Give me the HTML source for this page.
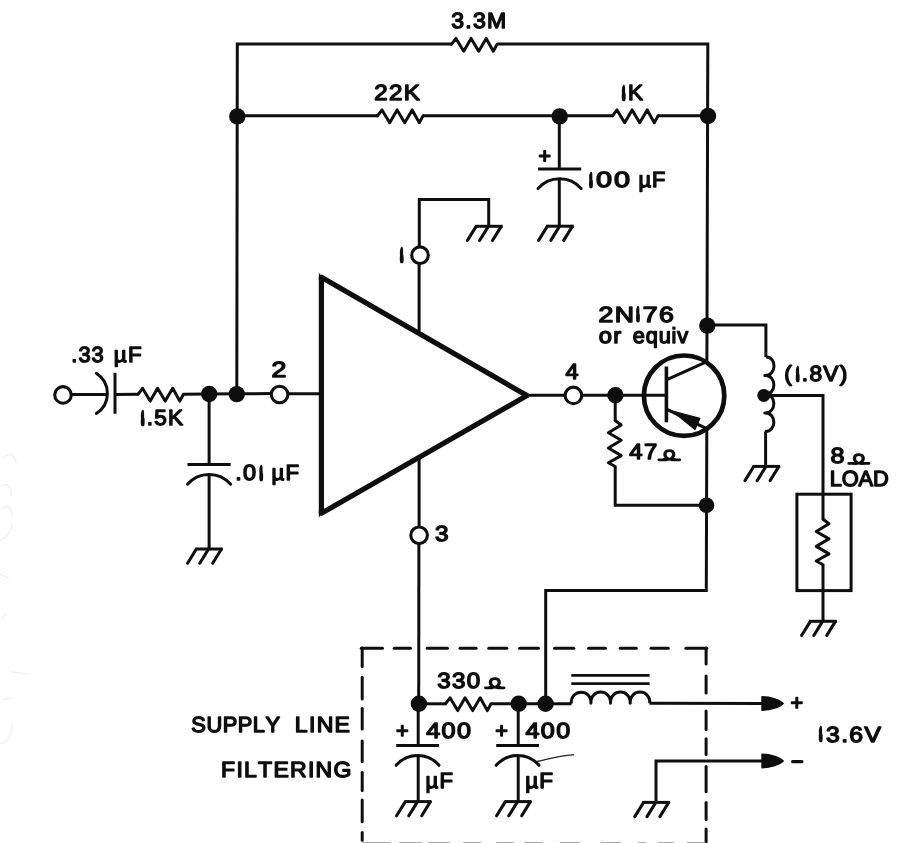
<!DOCTYPE html>
<html lang="en"><head><meta charset="utf-8"><title>Amplifier schematic</title>
<style>
html,body{margin:0;padding:0;background:#ffffff;}
body{width:901px;height:843px;overflow:hidden;}
svg{display:block}
svg text{font-kerning:none;text-rendering:geometricPrecision;font-family:"Liberation Sans",sans-serif;fill:#0e0e0e;stroke:#0e0e0e;stroke-linejoin:round;}
</style></head><body>
<svg width="901" height="843" viewBox="0 0 901 843">
<rect width="901" height="843" fill="#ffffff"/>
<g fill="none" stroke="#f0f0f0" stroke-width="1.5" stroke-linecap="round" stroke-dasharray="2 1.5"><path d="M3,458 C9,452 15,455 16,463"/><path d="M2,486 C8,482 12,488 11,496"/><path d="M2,508 C7,504 13,508 12,516"/><path d="M0,540 C6,538 11,532 12,524"/><path d="M0,574 L8,578"/><path d="M2,618 L6,614"/><path d="M12,672 L30,674"/><path d="M2,700 L12,698"/><path d="M0,744 C8,742 13,735 12,724"/></g>
<g>
<path d="M236.8,393.8 L237.3,44.1 L451.5,44.1" fill="none" stroke="#0e0e0e" stroke-width="3.0" stroke-linejoin="miter" stroke-linecap="butt" />
<path d="M451.5,44.4 L456.0,38.4 L463.7,51.2 L471.1,38.4 L478.7,51.2 L486.2,38.4 L493.3,51.2 L497.0,44.4" fill="none" stroke="#0e0e0e" stroke-width="3.0" stroke-linejoin="round" stroke-linecap="round"/>
<path d="M497.0,44.1 L707.8,44.1 L706.9,362.5" fill="none" stroke="#0e0e0e" stroke-width="3.0" stroke-linejoin="miter" stroke-linecap="butt" />
<path d="M237.2,115.8 L377.5,115.8" fill="none" stroke="#0e0e0e" stroke-width="3.0" stroke-linejoin="miter" stroke-linecap="butt" />
<path d="M377.5,115.9 L382.0,109.9 L389.7,122.7 L397.1,109.9 L404.7,122.7 L412.2,109.9 L419.3,122.7 L423.0,115.9" fill="none" stroke="#0e0e0e" stroke-width="3.0" stroke-linejoin="round" stroke-linecap="round"/>
<path d="M423.0,115.8 L612.5,115.8" fill="none" stroke="#0e0e0e" stroke-width="3.0" stroke-linejoin="miter" stroke-linecap="butt" />
<path d="M612.5,115.9 L617.0,109.9 L624.7,122.7 L632.1,109.9 L639.7,122.7 L647.2,109.9 L654.3,122.7 L658.0,115.9" fill="none" stroke="#0e0e0e" stroke-width="3.0" stroke-linejoin="round" stroke-linecap="round"/>
<path d="M658.0,115.8 L707.6,115.8" fill="none" stroke="#0e0e0e" stroke-width="3.0" stroke-linejoin="miter" stroke-linecap="butt" />
<circle cx="237.3" cy="116.4" r="8.2" fill="#0e0e0e"/>
<circle cx="559.7" cy="116.4" r="8.2" fill="#0e0e0e"/>
<circle cx="708.0" cy="116.0" r="8.2" fill="#0e0e0e"/>
<path d="M559.3,115.8 L559.3,169.0" fill="none" stroke="#0e0e0e" stroke-width="3.0" stroke-linejoin="miter" stroke-linecap="butt" />
<path d="M538.0,169.0 L581.2,169.0" fill="none" stroke="#0e0e0e" stroke-width="3.0" stroke-linejoin="miter" stroke-linecap="butt" />
<path d="M538.0,188.6 A28.7,28.7 0 0 1 581.2,188.6" fill="none" stroke="#0e0e0e" stroke-width="3.0" stroke-linecap="round"/>
<path d="M559.3,178.8 L559.3,226.2" fill="none" stroke="#0e0e0e" stroke-width="3.0" stroke-linejoin="miter" stroke-linecap="butt" />
<path d="M546.2,226.2 L573.8,226.2" fill="none" stroke="#0e0e0e" stroke-width="3.0" stroke-linejoin="miter" stroke-linecap="butt" />
<path d="M547.2,226.5 L538.6,240.4" stroke="#0e0e0e" stroke-width="3.1" stroke-linecap="round" fill="none"/>
<path d="M559.4,226.5 L550.8,240.4" stroke="#0e0e0e" stroke-width="3.1" stroke-linecap="round" fill="none"/>
<path d="M572.3,226.5 L563.7,240.4" stroke="#0e0e0e" stroke-width="3.1" stroke-linecap="round" fill="none"/>
<circle cx="420.0" cy="255.2" r="8.3" fill="none" stroke="#0e0e0e" stroke-width="3.1"/>
<path d="M419.3,247.2 L419.3,199.4 L488.7,199.4 L488.7,226.3" fill="none" stroke="#0e0e0e" stroke-width="3.0" stroke-linejoin="miter" stroke-linecap="butt" />
<path d="M475.0,226.3 L502.6,226.3" fill="none" stroke="#0e0e0e" stroke-width="3.0" stroke-linejoin="miter" stroke-linecap="butt" />
<path d="M476.0,226.6 L467.4,240.5" stroke="#0e0e0e" stroke-width="3.1" stroke-linecap="round" fill="none"/>
<path d="M488.2,226.6 L479.6,240.5" stroke="#0e0e0e" stroke-width="3.1" stroke-linecap="round" fill="none"/>
<path d="M501.1,226.6 L492.5,240.5" stroke="#0e0e0e" stroke-width="3.1" stroke-linecap="round" fill="none"/>
<path d="M419.1,263.2 L419.1,331.0" fill="none" stroke="#0e0e0e" stroke-width="3.0" stroke-linejoin="miter" stroke-linecap="butt" />
<circle cx="63.0" cy="394.9" r="8.3" fill="none" stroke="#0e0e0e" stroke-width="3.1"/>
<path d="M71.3,394.6 L107.0,394.4" fill="none" stroke="#0e0e0e" stroke-width="3.0" stroke-linejoin="miter" stroke-linecap="butt" />
<path d="M96.3,373.3 A23.8,23.8 0 0 1 96.3,413.5" fill="none" stroke="#0e0e0e" stroke-width="3.0" stroke-linecap="round"/>
<path d="M115.0,372.8 L115.0,413.8" fill="none" stroke="#0e0e0e" stroke-width="3.0" stroke-linejoin="miter" stroke-linecap="butt" />
<path d="M115.0,394.4 L138.0,394.3" fill="none" stroke="#0e0e0e" stroke-width="3.0" stroke-linejoin="miter" stroke-linecap="butt" />
<path d="M138.0,394.3 L142.5,388.3 L150.2,401.1 L157.6,388.3 L165.2,401.1 L172.7,388.3 L179.8,401.1 L183.5,394.3" fill="none" stroke="#0e0e0e" stroke-width="3.0" stroke-linejoin="round" stroke-linecap="round"/>
<path d="M183.5,394.2 L209.0,393.9 L237.0,393.7 L271.5,393.6" fill="none" stroke="#0e0e0e" stroke-width="3.0" stroke-linejoin="miter" stroke-linecap="butt" />
<circle cx="209.2" cy="394.0" r="8.2" fill="#0e0e0e"/>
<circle cx="236.8" cy="394.1" r="8.2" fill="#0e0e0e"/>
<circle cx="279.6" cy="394.5" r="8.3" fill="none" stroke="#0e0e0e" stroke-width="3.1"/>
<path d="M287.7,393.7 L321.0,393.7" fill="none" stroke="#0e0e0e" stroke-width="3.0" stroke-linejoin="miter" stroke-linecap="butt" />
<path d="M209.1,394.0 L209.1,464.6" fill="none" stroke="#0e0e0e" stroke-width="3.0" stroke-linejoin="miter" stroke-linecap="butt" />
<path d="M187.5,464.6 L230.7,464.6" fill="none" stroke="#0e0e0e" stroke-width="3.0" stroke-linejoin="miter" stroke-linecap="butt" />
<path d="M187.5,484.2 A28.7,28.7 0 0 1 230.7,484.2" fill="none" stroke="#0e0e0e" stroke-width="3.0" stroke-linecap="round"/>
<path d="M209.1,474.4 L209.1,549.0" fill="none" stroke="#0e0e0e" stroke-width="3.0" stroke-linejoin="miter" stroke-linecap="butt" />
<path d="M195.2,549.0 L222.8,549.0" fill="none" stroke="#0e0e0e" stroke-width="3.0" stroke-linejoin="miter" stroke-linecap="butt" />
<path d="M196.2,549.3 L187.6,563.2" stroke="#0e0e0e" stroke-width="3.1" stroke-linecap="round" fill="none"/>
<path d="M208.4,549.3 L199.8,563.2" stroke="#0e0e0e" stroke-width="3.1" stroke-linecap="round" fill="none"/>
<path d="M221.3,549.3 L212.7,563.2" stroke="#0e0e0e" stroke-width="3.1" stroke-linecap="round" fill="none"/>
<path d="M321.4,277.2 L527.0,395.6 L321.4,513.3 Z" fill="none" stroke="#0e0e0e" stroke-width="5.2" stroke-linejoin="round"/>
<path d="M321.5,277.2 L318.85,272.6 L318.85,280 Z M321.5,513.3 L318.85,517.7 L318.85,510 Z" fill="#0e0e0e"/>
<path d="M529.0,395.3 L565.0,395.3" fill="none" stroke="#0e0e0e" stroke-width="3.0" stroke-linejoin="miter" stroke-linecap="butt" />
<circle cx="573.4" cy="395.4" r="8.3" fill="none" stroke="#0e0e0e" stroke-width="3.1"/>
<path d="M581.5,395.3 L666.0,395.3" fill="none" stroke="#0e0e0e" stroke-width="3.0" stroke-linejoin="miter" stroke-linecap="butt" />
<circle cx="615.4" cy="395.3" r="8.2" fill="#0e0e0e"/>
<path d="M419.1,459.0 L419.1,527.2" fill="none" stroke="#0e0e0e" stroke-width="3.0" stroke-linejoin="miter" stroke-linecap="butt" />
<circle cx="419.1" cy="535.3" r="8.3" fill="none" stroke="#0e0e0e" stroke-width="3.1"/>
<path d="M418.9,543.3 L418.7,704.0" fill="none" stroke="#0e0e0e" stroke-width="3.0" stroke-linejoin="miter" stroke-linecap="butt" />
<circle cx="684.1" cy="395.7" r="40.2" fill="none" stroke="#0e0e0e" stroke-width="4.7"/>
<path d="M666.4,366.5 L666.4,422.3" fill="none" stroke="#0e0e0e" stroke-width="3.6" stroke-linejoin="miter" stroke-linecap="butt" />
<path d="M667.5,379.3 L706.9,361.6" fill="none" stroke="#0e0e0e" stroke-width="3.1" stroke-linejoin="miter" stroke-linecap="butt" />
<path d="M667.5,409.6 L706.7,428.6" fill="none" stroke="#0e0e0e" stroke-width="3.1" stroke-linejoin="miter" stroke-linecap="butt" />
<path d="M672.5,411.2 L699.9,418.4 L695.0,429.6 Z" fill="#0e0e0e" stroke="#0e0e0e" stroke-width="1.2" stroke-linejoin="round"/>
<circle cx="707.3" cy="325.6" r="8.2" fill="#0e0e0e"/>
<path d="M707.0,325.0 L765.9,325.0 L765.9,357.0" fill="none" stroke="#0e0e0e" stroke-width="3.0" stroke-linejoin="miter" stroke-linecap="butt" />
<path d="M765.9,357 C776.9,356.5 776.9,376.1 764.8,375.6 C776.9,375.1 776.9,394.8 764.8,394.3 C776.9,393.8 776.9,413.4 764.8,412.9 C776.9,412.4 776.9,432.1 764.8,431.6 " fill="none" stroke="#0e0e0e" stroke-width="3.0" stroke-linejoin="round"/>
<path d="M765.6,431.6 L765.6,466.4" fill="none" stroke="#0e0e0e" stroke-width="3.0" stroke-linejoin="miter" stroke-linecap="butt" />
<path d="M752.6,466.4 L780.2,466.4" fill="none" stroke="#0e0e0e" stroke-width="3.0" stroke-linejoin="miter" stroke-linecap="butt" />
<path d="M753.6,466.7 L745.0,480.6" stroke="#0e0e0e" stroke-width="3.1" stroke-linecap="round" fill="none"/>
<path d="M765.8,466.7 L757.2,480.6" stroke="#0e0e0e" stroke-width="3.1" stroke-linecap="round" fill="none"/>
<path d="M778.7,466.7 L770.1,480.6" stroke="#0e0e0e" stroke-width="3.1" stroke-linecap="round" fill="none"/>
<circle cx="763.8" cy="395.4" r="6.5" fill="#0e0e0e"/>
<path d="M764.0,395.4 L823.0,395.4 L823.0,519.3" fill="none" stroke="#0e0e0e" stroke-width="3.0" stroke-linejoin="miter" stroke-linecap="butt" />
<rect x="796.9" y="494.2" width="54.2" height="96.4" fill="none" stroke="#0e0e0e" stroke-width="3.0"/>
<path d="M823.0,519.3 L829.0,523.8 L816.2,531.5 L829.0,538.9 L816.2,546.4 L829.0,553.9 L816.2,561.0 L823.0,564.7" fill="none" stroke="#0e0e0e" stroke-width="3.0" stroke-linejoin="round" stroke-linecap="round"/>
<path d="M823.0,564.7 L823.0,621.3" fill="none" stroke="#0e0e0e" stroke-width="3.0" stroke-linejoin="miter" stroke-linecap="butt" />
<path d="M809.2,621.3 L836.8,621.3" fill="none" stroke="#0e0e0e" stroke-width="3.0" stroke-linejoin="miter" stroke-linecap="butt" />
<path d="M810.2,621.6 L801.6,635.5" stroke="#0e0e0e" stroke-width="3.1" stroke-linecap="round" fill="none"/>
<path d="M822.4,621.6 L813.8,635.5" stroke="#0e0e0e" stroke-width="3.1" stroke-linecap="round" fill="none"/>
<path d="M835.3,621.6 L826.7,635.5" stroke="#0e0e0e" stroke-width="3.1" stroke-linecap="round" fill="none"/>
<path d="M615.2,395.3 L615.2,420.5" fill="none" stroke="#0e0e0e" stroke-width="3.0" stroke-linejoin="miter" stroke-linecap="butt" />
<path d="M615.2,420.5 L621.2,425.0 L608.4,432.8 L621.2,440.3 L608.4,448.0 L621.2,455.6 L608.4,462.8 L615.2,466.5" fill="none" stroke="#0e0e0e" stroke-width="3.0" stroke-linejoin="round" stroke-linecap="round"/>
<path d="M615.2,466.5 L615.2,505.2 L706.6,505.2" fill="none" stroke="#0e0e0e" stroke-width="3.0" stroke-linejoin="miter" stroke-linecap="butt" />
<circle cx="706.5" cy="505.2" r="7.8" fill="#0e0e0e"/>
<path d="M706.8,428.0 L706.3,590.4 L545.7,590.4 L545.7,704.0" fill="none" stroke="#0e0e0e" stroke-width="3.0" stroke-linejoin="miter" stroke-linecap="butt" />
<circle cx="418.9" cy="703.8" r="8.2" fill="#0e0e0e"/>
<circle cx="518.7" cy="703.8" r="8.2" fill="#0e0e0e"/>
<circle cx="545.6" cy="703.8" r="8.2" fill="#0e0e0e"/>
<path d="M418.9,703.8 L445.5,703.8" fill="none" stroke="#0e0e0e" stroke-width="3.0" stroke-linejoin="miter" stroke-linecap="butt" />
<path d="M445.5,703.8 L450.0,697.8 L457.7,710.6 L465.1,697.8 L472.7,710.6 L480.2,697.8 L487.3,710.6 L491.0,703.8" fill="none" stroke="#0e0e0e" stroke-width="3.0" stroke-linejoin="round" stroke-linecap="round"/>
<path d="M491.0,703.8 L571.5,703.8" fill="none" stroke="#0e0e0e" stroke-width="3.0" stroke-linejoin="miter" stroke-linecap="butt" />
<path d="M418.2,703.8 L418.2,745.5" fill="none" stroke="#0e0e0e" stroke-width="3.0" stroke-linejoin="miter" stroke-linecap="butt" />
<path d="M396.2,745.5 L439.0,745.5" fill="none" stroke="#0e0e0e" stroke-width="3.0" stroke-linejoin="miter" stroke-linecap="butt" />
<path d="M396.2,765.3 A28.3,28.3 0 0 1 439.0,765.3" fill="none" stroke="#0e0e0e" stroke-width="3.0" stroke-linecap="round"/>
<path d="M418.2,755.5 L418.2,801.6" fill="none" stroke="#0e0e0e" stroke-width="3.0" stroke-linejoin="miter" stroke-linecap="butt" />
<path d="M404.6,801.6 L431.4,801.6" fill="none" stroke="#0e0e0e" stroke-width="3.0" stroke-linejoin="miter" stroke-linecap="butt" />
<path d="M405.2,801.9 L396.6,815.8" stroke="#0e0e0e" stroke-width="3.1" stroke-linecap="round" fill="none"/>
<path d="M417.4,801.9 L408.8,815.8" stroke="#0e0e0e" stroke-width="3.1" stroke-linecap="round" fill="none"/>
<path d="M430.3,801.9 L421.7,815.8" stroke="#0e0e0e" stroke-width="3.1" stroke-linecap="round" fill="none"/>
<path d="M518.2,703.8 L518.2,745.5" fill="none" stroke="#0e0e0e" stroke-width="3.0" stroke-linejoin="miter" stroke-linecap="butt" />
<path d="M496.2,745.5 L539.0,745.5" fill="none" stroke="#0e0e0e" stroke-width="3.0" stroke-linejoin="miter" stroke-linecap="butt" />
<path d="M496.2,765.3 A28.3,28.3 0 0 1 539.0,765.3" fill="none" stroke="#0e0e0e" stroke-width="3.0" stroke-linecap="round"/>
<path d="M518.2,755.5 L518.2,801.6" fill="none" stroke="#0e0e0e" stroke-width="3.0" stroke-linejoin="miter" stroke-linecap="butt" />
<path d="M504.6,801.6 L531.4,801.6" fill="none" stroke="#0e0e0e" stroke-width="3.0" stroke-linejoin="miter" stroke-linecap="butt" />
<path d="M505.2,801.9 L496.6,815.8" stroke="#0e0e0e" stroke-width="3.1" stroke-linecap="round" fill="none"/>
<path d="M517.4,801.9 L508.8,815.8" stroke="#0e0e0e" stroke-width="3.1" stroke-linecap="round" fill="none"/>
<path d="M530.3,801.9 L521.7,815.8" stroke="#0e0e0e" stroke-width="3.1" stroke-linecap="round" fill="none"/>
<path d="M536.5,761.5 C545,760 556,756 574,754.6" fill="none" stroke="#222" stroke-width="1.2"/>
<path d="M571.2,703.6 C570.7,688.4 591.4,688.4 590.9,703.2 C590.4,688.4 611.0,688.4 610.5,703.2 C610.0,688.4 630.7,688.4 630.2,703.2 C629.7,688.4 650.3,688.4 649.8,703.2 " fill="none" stroke="#0e0e0e" stroke-width="3.0" stroke-linejoin="round"/>
<path d="M571.3,675.3 L649.6,675.3" fill="none" stroke="#0e0e0e" stroke-width="2.7" stroke-linejoin="miter" stroke-linecap="butt" />
<path d="M571.3,683.6 L649.6,683.6" fill="none" stroke="#0e0e0e" stroke-width="2.7" stroke-linejoin="miter" stroke-linecap="butt" />
<path d="M649.5,703.3 L764.0,703.5" fill="none" stroke="#0e0e0e" stroke-width="3.0" stroke-linejoin="miter" stroke-linecap="butt" />
<path d="M762.0,696.8 C771,696.9 780.2,700.1 783.2,703.5 C780.2,706.9 771,710.1 762.0,710.2 Z" fill="#0e0e0e" stroke="#0e0e0e" stroke-width="1.4" stroke-linejoin="round"/>
<path d="M656.0,802.4 L656.0,761.0 L764.0,761.0" fill="none" stroke="#0e0e0e" stroke-width="3.0" stroke-linejoin="miter" stroke-linecap="butt" />
<path d="M762.0,754.3 C771,754.4 780.2,757.6 783.2,761.0 C780.2,764.4 771,767.6 762.0,767.7 Z" fill="#0e0e0e" stroke="#0e0e0e" stroke-width="1.4" stroke-linejoin="round"/>
<path d="M642.4,802.4 L670.0,802.4" fill="none" stroke="#0e0e0e" stroke-width="3.0" stroke-linejoin="miter" stroke-linecap="butt" />
<path d="M643.4,802.7 L634.8,816.6" stroke="#0e0e0e" stroke-width="3.1" stroke-linecap="round" fill="none"/>
<path d="M655.6,802.7 L647.0,816.6" stroke="#0e0e0e" stroke-width="3.1" stroke-linecap="round" fill="none"/>
<path d="M668.5,802.7 L659.9,816.6" stroke="#0e0e0e" stroke-width="3.1" stroke-linecap="round" fill="none"/>
<path d="M361.3,648.2 H382.5" stroke="#0e0e0e" stroke-width="3.0" stroke-linecap="round"/>
<path d="M394.3,648.2 H410.5" stroke="#0e0e0e" stroke-width="3.0" stroke-linecap="round"/>
<path d="M427.2,648.2 H447.5" stroke="#0e0e0e" stroke-width="3.0" stroke-linecap="round"/>
<path d="M460.0,648.2 H476.1" stroke="#0e0e0e" stroke-width="3.0" stroke-linecap="round"/>
<path d="M488.8,648.2 H506.8" stroke="#0e0e0e" stroke-width="3.0" stroke-linecap="round"/>
<path d="M519.6,648.2 H538.5" stroke="#0e0e0e" stroke-width="3.0" stroke-linecap="round"/>
<path d="M554.5,648.2 H573.8" stroke="#0e0e0e" stroke-width="3.0" stroke-linecap="round"/>
<path d="M588.6,648.2 H605.5" stroke="#0e0e0e" stroke-width="3.0" stroke-linecap="round"/>
<path d="M620.2,648.2 H636.3" stroke="#0e0e0e" stroke-width="3.0" stroke-linecap="round"/>
<path d="M651.0,648.2 H668.3" stroke="#0e0e0e" stroke-width="3.0" stroke-linecap="round"/>
<path d="M685.9,648.2 H706.8" stroke="#0e0e0e" stroke-width="3.0" stroke-linecap="round"/>
<path d="M362.2,648.1 V666.5" stroke="#0e0e0e" stroke-width="3.0" stroke-linecap="round"/>
<path d="M362.2,677.3 V699.0" stroke="#0e0e0e" stroke-width="3.0" stroke-linecap="round"/>
<path d="M362.2,708.6 V729.1" stroke="#0e0e0e" stroke-width="3.0" stroke-linecap="round"/>
<path d="M362.2,741.1 V761.6" stroke="#0e0e0e" stroke-width="3.0" stroke-linecap="round"/>
<path d="M362.2,772.4 V790.5" stroke="#0e0e0e" stroke-width="3.0" stroke-linecap="round"/>
<path d="M362.2,800.1 V821.8" stroke="#0e0e0e" stroke-width="3.0" stroke-linecap="round"/>
<path d="M362.2,832.6 V840.3" stroke="#0e0e0e" stroke-width="3.0" stroke-linecap="round"/>
<path d="M706.1,648.1 V664.1" stroke="#0e0e0e" stroke-width="3.0" stroke-linecap="round"/>
<path d="M706.1,676.1 V693.0" stroke="#0e0e0e" stroke-width="3.0" stroke-linecap="round"/>
<path d="M706.1,711.0 V729.8" stroke="#0e0e0e" stroke-width="3.0" stroke-linecap="round"/>
<path d="M706.1,738.7 V754.4" stroke="#0e0e0e" stroke-width="3.0" stroke-linecap="round"/>
<path d="M706.1,766.4 V791.7" stroke="#0e0e0e" stroke-width="3.0" stroke-linecap="round"/>
<path d="M706.1,802.5 V819.4" stroke="#0e0e0e" stroke-width="3.0" stroke-linecap="round"/>
<path d="M706.1,829.0 V842.3" stroke="#0e0e0e" stroke-width="3.0" stroke-linecap="round"/>
<path d="M362.9,842.9 H390.3" stroke="#8a8a8a" stroke-width="1.4" stroke-linecap="round"/>
<path d="M399.7,842.9 H421.3" stroke="#8a8a8a" stroke-width="1.4" stroke-linecap="round"/>
<path d="M428.7,842.9 H449.8" stroke="#8a8a8a" stroke-width="1.4" stroke-linecap="round"/>
<path d="M463.7,842.9 H480.8" stroke="#8a8a8a" stroke-width="1.4" stroke-linecap="round"/>
<path d="M496.5,842.9 H513.6" stroke="#8a8a8a" stroke-width="1.4" stroke-linecap="round"/>
<path d="M525.2,842.9 H542.3" stroke="#8a8a8a" stroke-width="1.4" stroke-linecap="round"/>
<path d="M560.1,842.9 H579.3" stroke="#8a8a8a" stroke-width="1.4" stroke-linecap="round"/>
<path d="M601.2,842.9 H620.3" stroke="#8a8a8a" stroke-width="1.4" stroke-linecap="round"/>
<path d="M638.2,842.9 H645.0" stroke="#8a8a8a" stroke-width="1.4" stroke-linecap="round"/>
<path d="M658.7,842.9 H673.7" stroke="#8a8a8a" stroke-width="1.4" stroke-linecap="round"/>
<path d="M687.4,842.9 H705.3" stroke="#8a8a8a" stroke-width="1.4" stroke-linecap="round"/>
</g>
<g opacity="0.999">
<g><text transform="translate(451.16,28.00) scale(1.056,1)" font-size="21.80" stroke-width="1.4" letter-spacing="1.20">3.3M</text></g>
<g><text transform="translate(374.26,100.40) scale(1.105,1)" font-size="21.80" stroke-width="1.4" letter-spacing="1.20">22K</text></g>
<g><text transform="translate(622.67,96.89) scale(0.153,0.527)" font-size="22.0" stroke-width="16.0" stroke-linejoin="miter">1</text><text transform="translate(627.88,100.40) scale(1.028,1)" font-size="21.80" stroke-width="1.4">K</text></g>
<g><text x="538.42" y="163.25" font-size="21.19" stroke-width="1.5">+</text></g>
<g><text transform="translate(589.97,183.69) scale(0.153,0.527)" font-size="22.0" stroke-width="16.0" stroke-linejoin="miter">1</text><text transform="translate(596.10,187.20) scale(1.320,1)" font-size="21.80" stroke-width="1.4" letter-spacing="1.43">00</text> <text transform="translate(638.61,187.20) scale(1.000,1)" font-size="21.80" stroke-width="1.4" letter-spacing="0.88">µF</text></g>
<g><text transform="translate(400.77,259.09) scale(0.153,0.527)" font-size="22.0" stroke-width="16.0" stroke-linejoin="miter">1</text></g>
<g><text transform="translate(71.31,362.20) scale(1.000,1)" font-size="21.80" stroke-width="1.4" letter-spacing="1.02">.33</text> <text transform="translate(113.79,362.20) scale(1.026,1)" font-size="21.80" stroke-width="1.4" letter-spacing="1.20">µF</text></g>
<g><text transform="translate(141.67,421.69) scale(0.153,0.527)" font-size="22.0" stroke-width="16.0" stroke-linejoin="miter">1</text><text transform="translate(146.67,425.20) scale(1.032,1)" font-size="21.80" stroke-width="1.4" letter-spacing="1.20">.5K</text></g>
<g><text transform="translate(271.41,377.30) scale(1.227,1)" font-size="21.80" stroke-width="1.4">2</text></g>
<g><text transform="translate(235.21,480.40) scale(1.076,1)" font-size="21.80" stroke-width="1.4" letter-spacing="1.20">.0</text><text transform="translate(260.27,476.89) scale(0.153,0.527)" font-size="22.0" stroke-width="16.0" stroke-linejoin="miter">1</text> <text transform="translate(271.59,480.40) scale(1.019,1)" font-size="21.80" stroke-width="1.4" letter-spacing="1.20">µF</text></g>
<g><text transform="translate(565.41,379.00) scale(1.074,1)" font-size="21.80" stroke-width="1.4">4</text></g>
<g><text transform="translate(435.05,540.80) scale(1.116,1)" font-size="21.80" stroke-width="1.4">3</text></g>
<g><text transform="translate(598.42,321.60) scale(1.222,1)" font-size="21.80" stroke-width="1.4" letter-spacing="1.20">2N</text><text transform="translate(636.99,318.09) scale(0.153,0.527)" font-size="22.0" stroke-width="16.0" stroke-linejoin="miter">1</text><text transform="translate(642.81,321.60) scale(1.222,1)" font-size="21.80" stroke-width="1.4" letter-spacing="1.20">76</text></g>
<g><text transform="translate(598.66,343.20) scale(1.091,1)" font-size="21.80" stroke-width="1.4" letter-spacing="1.20">or</text> <text transform="translate(632.77,343.20) scale(1.000,1)" font-size="21.80" stroke-width="1.4" letter-spacing="0.82">equiv</text></g>
<g><text transform="translate(629.32,459.40) scale(1.093,1)" font-size="21.80" stroke-width="1.4" letter-spacing="1.20">47</text><text transform="translate(663.22,460.20) scale(0.958,0.842)" font-size="17.0" stroke-width="1.9">Ω</text><path d="M658.8,459.8 H666.5 M672.1,459.8 H679.8" stroke="#0e0e0e" stroke-width="2.7" stroke-linecap="round" fill="none"/></g>
<g><text transform="translate(784.32,381.40) scale(1.043,1)" font-size="21.80" stroke-width="1.4" letter-spacing="1.20">(</text><text transform="translate(796.85,377.89) scale(0.153,0.527)" font-size="22.0" stroke-width="16.0" stroke-linejoin="miter">1</text><text transform="translate(801.84,381.40) scale(1.043,1)" font-size="21.80" stroke-width="1.4" letter-spacing="1.20">.8V)</text></g>
<g><text transform="translate(830.51,463.40) scale(1.152,1)" font-size="21.80" stroke-width="1.4">8</text><text transform="translate(852.77,463.80) scale(0.958,0.842)" font-size="17.0" stroke-width="1.9">Ω</text><path d="M848.7,463.4 H856.1 M861.6,463.4 H869.0" stroke="#0e0e0e" stroke-width="2.7" stroke-linecap="round" fill="none"/></g>
<g><text transform="translate(829.71,485.80) scale(1.000,1)" font-size="21.80" stroke-width="1.4" letter-spacing="-0.11">LOAD</text></g>
<g><text transform="translate(437.26,687.50) scale(1.109,1)" font-size="21.80" stroke-width="1.4" letter-spacing="1.20">330</text><text transform="translate(488.67,688.20) scale(0.958,0.842)" font-size="17.0" stroke-width="1.9">Ω</text><path d="M485.4,687.8 H491.9 M497.6,687.8 H504.1" stroke="#0e0e0e" stroke-width="2.7" stroke-linecap="round" fill="none"/></g>
<g><text x="396.10" y="738.08" font-size="21.60" stroke-width="1.5">+</text> <text transform="translate(426.13,738.30) scale(1.156,1)" font-size="21.80" stroke-width="1.4" letter-spacing="1.20">400</text></g>
<g><text transform="translate(425.60,787.80) scale(1.011,1)" font-size="21.80" stroke-width="1.4" letter-spacing="1.20">µF</text></g>
<g><text x="495.30" y="738.08" font-size="21.60" stroke-width="1.5">+</text> <text transform="translate(525.53,738.30) scale(1.151,1)" font-size="21.80" stroke-width="1.4" letter-spacing="1.20">400</text></g>
<g><text transform="translate(525.19,787.80) scale(1.030,1)" font-size="21.80" stroke-width="1.4" letter-spacing="1.20">µF</text></g>
<g><text transform="translate(191.31,732.30) scale(1.000,1)" font-size="21.80" stroke-width="1.4" letter-spacing="0.53">SUPPLY</text> <text transform="translate(294.85,732.30) scale(1.060,1)" font-size="21.80" stroke-width="1.4" letter-spacing="1.20">LINE</text></g>
<g><text transform="translate(221.05,776.60) scale(1.056,1)" font-size="21.80" stroke-width="1.4" letter-spacing="1.20">FILTERING</text></g>
<g><text x="790.60" y="710.18" font-size="21.60" stroke-width="1.5">+</text></g>
<g><text transform="translate(819.87,737.99) scale(0.153,0.527)" font-size="22.0" stroke-width="16.0" stroke-linejoin="miter">1</text><text transform="translate(826.05,741.50) scale(1.132,1)" font-size="21.80" stroke-width="1.4" letter-spacing="1.20">3.6V</text></g>
<g><text transform="translate(791.03,766.61) scale(1.882,1)" font-size="20" stroke-width="1.6">-</text></g>
</g>
</svg>
</body></html>
